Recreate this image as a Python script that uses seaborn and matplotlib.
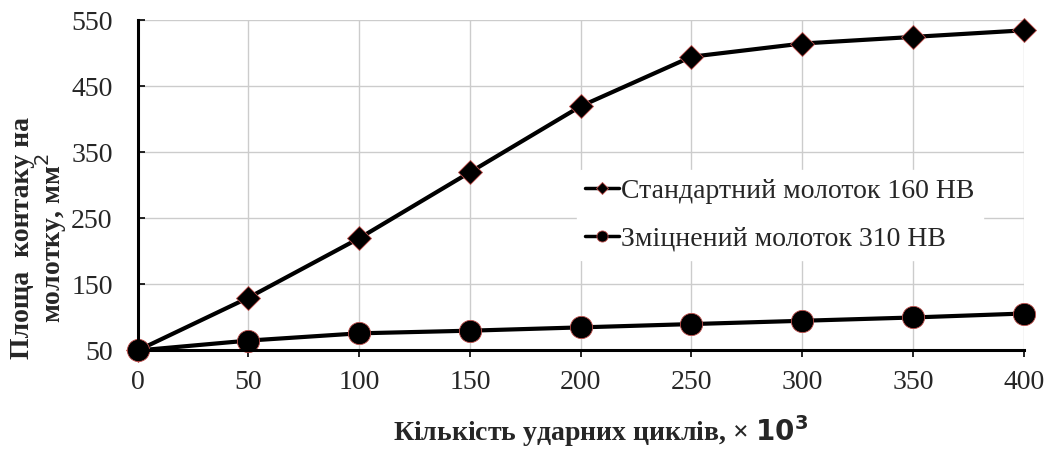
import numpy as np
import pandas as pd
import seaborn as sns
import matplotlib.pyplot as plt

# data
cycles = [0, 50, 100, 150, 200, 250, 300, 350, 400]
standard = [50, 130, 220, 320, 420, 495, 515, 525, 535]
hardened = [50, 65, 76, 80, 85, 90, 95, 100, 106]
label_std = "Стандартний молоток 160 НВ"
label_hard = "Зміцнений молоток 310 НВ"

df = pd.DataFrame({"cycles": cycles * 2,
                   "area": standard + hardened,
                   "series": [label_std] * len(cycles) + [label_hard] * len(cycles)})

sns.set_theme(style="whitegrid")
plt.rcParams["font.family"] = ["Liberation Serif", "DejaVu Serif"]

fig, ax = plt.subplots(figsize=(10.51, 4.54), dpi=100)
fig.subplots_adjust(left=0.131, right=0.974, top=0.955, bottom=0.228)

sns.lineplot(data=df, x="cycles", y="area", hue="series", style="series",
             markers={label_std: "D", label_hard: "o"}, dashes=False,
             palette={label_std: "black", label_hard: "black"},
             markersize=16, markeredgecolor="#c0504d", markeredgewidth=0.6,
             linewidth=3, ax=ax, legend=True)
for line in ax.lines:
    line.set_clip_on(False)
    if line.get_marker() == "D":
        line.set_markersize(12.5)

ax.set_xlim(0, 400)
ax.set_ylim(50, 550)
ax.set_xticks(cycles)
ax.set_yticks([50, 150, 250, 350, 450, 550])
ax.tick_params(axis="both", labelsize=20, length=5, width=1.2, color="black",
               left=True, bottom=True)
ax.tick_params(axis="x", direction="out", pad=9)
ax.tick_params(axis="y", direction="in", pad=18)
ax.grid(True, color="#cccccc", linewidth=1)
for s in ["top", "right"]:
    ax.spines[s].set_visible(False)
for s in ["left", "bottom"]:
    ax.spines[s].set_color("black")
    ax.spines[s].set_linewidth(2.2)

ax.set_xlabel("Кількість ударних циклів, × $\\mathbf{10^3}$", fontsize=20,
              fontweight="bold")
ax.xaxis.set_label_coords(0.5226, -0.19)
ax.set_ylabel("Площа  контаку на\nмолотку, мм$^2$", fontsize=20,
              fontweight="bold", linespacing=0.95)
ax.yaxis.set_label_coords(-0.077, 0.34)

leg = ax.legend(loc="center left", bbox_to_anchor=(0.48, 0.41), frameon=True,
                fontsize=20, handlelength=1.2, handletextpad=0.1,
                labelspacing=0.8, markerscale=0.5, borderpad=0.3)
leg.get_frame().set_facecolor("white")
leg.get_frame().set_edgecolor("white")
leg.get_frame().set_alpha(1)
for h in leg.legend_handles:
    h.set_linewidth(2.5)

fig.savefig("out.png", dpi=100)
